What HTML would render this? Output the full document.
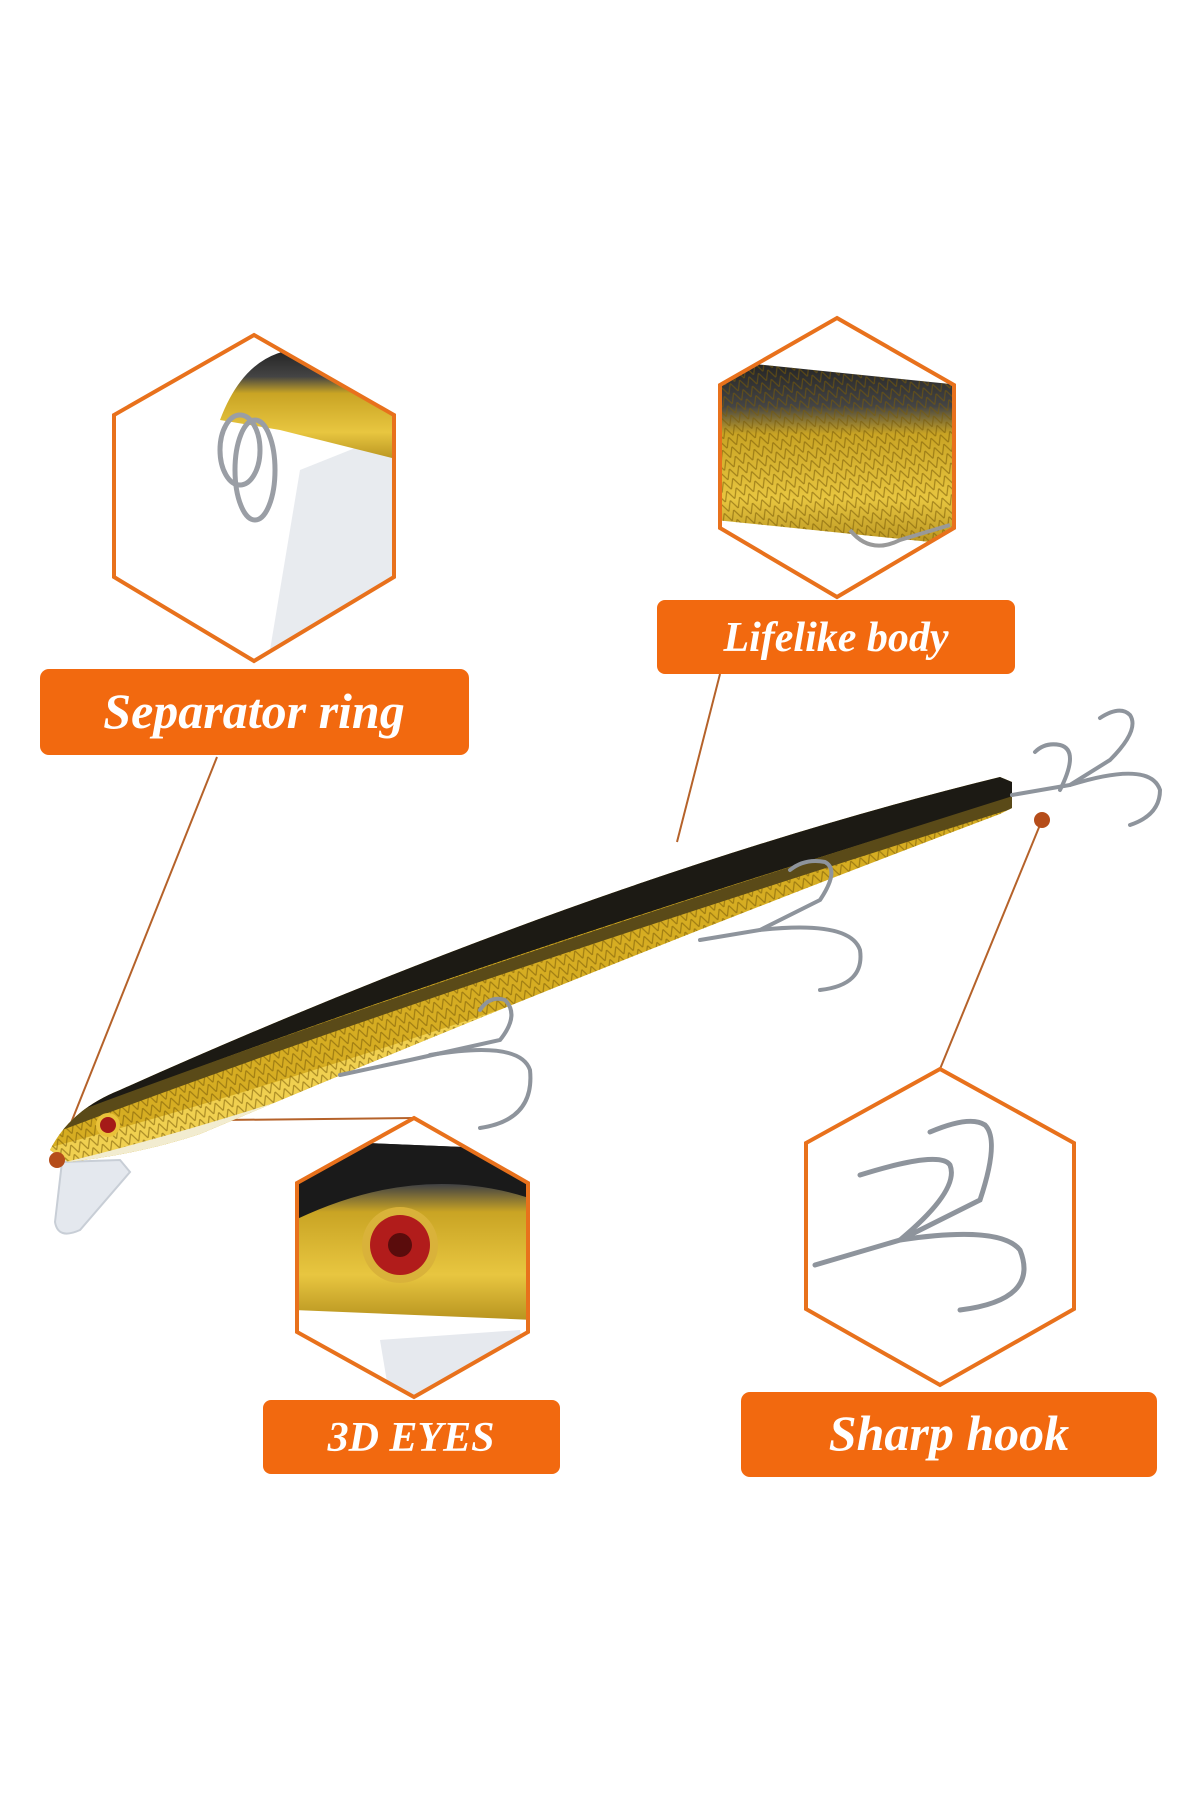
<!DOCTYPE html>
<html><head><meta charset="utf-8"><style>
html,body{margin:0;padding:0;background:#fff;width:1200px;height:1800px;overflow:hidden}
svg{display:block}
text{font-family:"Liberation Serif",serif;font-style:italic;font-weight:bold;fill:#fff}
</style></head><body>
<svg width="1200" height="1800" viewBox="0 0 1200 1800" xmlns="http://www.w3.org/2000/svg">
<defs>
<linearGradient id="gold" x1="0" y1="0" x2="0" y2="1">
<stop offset="0" stop-color="#222"/><stop offset="0.25" stop-color="#444"/>
<stop offset="0.4" stop-color="#c9a424"/><stop offset="0.75" stop-color="#e8c640"/>
<stop offset="1" stop-color="#b89420"/></linearGradient>
<pattern id="scales" width="10" height="10" patternUnits="userSpaceOnUse" patternTransform="rotate(-20)">
<path d="M0 10 L5 0 L10 10" fill="none" stroke="#7a5c08" stroke-width="1.2" opacity="0.6"/></pattern>
<clipPath id="h1"><polygon points="254,335 394,415 394,577 254,661 114,577 114,415"/></clipPath>
<clipPath id="h2"><polygon points="837,318 954,385 954,528 837,597 720,528 720,385"/></clipPath>
<clipPath id="h3"><polygon points="414,1118 528,1183 528,1332 414,1397 297,1332 297,1183"/></clipPath>
<clipPath id="h4"><polygon points="940,1069 1074,1143 1074,1309 940,1385 806,1309 806,1143"/></clipPath>
<clipPath id="fb"><path d="M50 1150 Q70 1110 120 1090 Q600 875 1000 777 L1012 782 L1012 808 L1000 814 Q600 965 200 1134 Q140 1154 68 1162 Z"/></clipPath>
</defs>

<g stroke="#b5622a" stroke-width="2" fill="none">
<line x1="217" y1="757" x2="57" y2="1158"/>
<line x1="720" y1="674" x2="677" y2="842"/>
<line x1="1042" y1="820" x2="940" y2="1069"/>
<line x1="130" y1="1121" x2="414" y2="1118"/>
</g>

<path d="M62 1162 L120 1160 L130 1172 L80 1230 Q58 1240 55 1222 Z" fill="#e4e8ee" stroke="#c8ced6" stroke-width="2"/>
<g clip-path="url(#fb)">
<rect x="40" y="760" width="1000" height="420" fill="#d6ad22"/>
<path d="M40 1200 L40 1150 Q400 1055 1020 825 L1020 1200 Z" fill="#f0d050"/>
<rect x="40" y="760" width="1000" height="420" fill="url(#scales)"/>
<path d="M40 1180 L40 1128 Q400 985 1020 795 L1020 760 L40 760 Z" fill="#1c1a14"/>
<path d="M40 1132 Q400 995 1020 800" stroke="#5a4a18" stroke-width="12" fill="none"/>
<path d="M40 1200 L40 1168 Q400 1085 1020 814 L1020 1200 Z" fill="#f2ecd0"/>
</g>
<circle cx="108" cy="1125" r="12" fill="#e9c23a"/><circle cx="108" cy="1125" r="8" fill="#a51a18"/>
<g stroke="#8e949c" stroke-width="4" fill="none" stroke-linecap="round">
<path d="M1012 795 L1070 785 L1110 760 Q1140 730 1130 715 Q1120 705 1100 718"/>
<path d="M1060 790 Q1080 750 1060 745 Q1045 742 1035 752"/>
<path d="M1070 785 Q1150 760 1160 790 Q1160 815 1130 825"/>
<path d="M700 940 L760 930 L820 900 Q840 870 825 862 Q805 858 790 870"/>
<path d="M760 930 Q850 920 860 950 Q865 985 820 990"/>
<path d="M340 1075 L410 1060 L500 1040 Q520 1015 505 1000 Q490 995 480 1010"/>
<path d="M430 1055 Q520 1040 530 1070 Q535 1120 480 1128"/>
</g>
<circle cx="1042" cy="820" r="8" fill="#b54d1a"/>
<circle cx="57" cy="1160" r="8" fill="#b54d1a"/>

<g clip-path="url(#h1)">
<rect x="110" y="330" width="290" height="340" fill="#fff"/>
<path d="M270 650 L300 470 L400 430 L400 670 Z" fill="#e8ebef"/>
<path d="M220 420 Q250 340 320 350 L400 380 L400 460 L280 430 Z" fill="url(#gold)"/>
<g stroke="#9a9ea5" stroke-width="5" fill="none"><ellipse cx="255" cy="470" rx="20" ry="50"/><ellipse cx="240" cy="450" rx="20" ry="35"/></g>
</g>
<polygon points="254,335 394,415 394,577 254,661 114,577 114,415" fill="none" stroke="#e8711c" stroke-width="4"/>
<rect x="40" y="669" width="429" height="86" rx="9" fill="#f2690f"/>
<text x="254" y="728" font-size="50" text-anchor="middle">Separator ring</text>

<g clip-path="url(#h2)">
<rect x="715" y="315" width="245" height="290" fill="#fff"/>
<path d="M715 360 L960 385 L960 545 L715 520 Z" fill="url(#gold)"/>
<path d="M715 360 L960 385 L960 545 L715 520 Z" fill="url(#scales)"/>
<path d="M850 530 Q870 555 900 540 L950 525" stroke="#999" stroke-width="4" fill="none"/>
</g>
<polygon points="837,318 954,385 954,528 837,597 720,528 720,385" fill="none" stroke="#e8711c" stroke-width="4"/>
<rect x="657" y="600" width="358" height="74" rx="8" fill="#f2690f"/>
<text x="836" y="651" font-size="42" text-anchor="middle">Lifelike body</text>

<g clip-path="url(#h3)">
<rect x="295" y="1115" width="240" height="290" fill="#fff"/>
<path d="M295 1140 L535 1150 L535 1320 L295 1310 Z" fill="url(#gold)"/>
<path d="M295 1140 L535 1150 L535 1200 Q420 1160 295 1220 Z" fill="#1a1a1a"/>
<path d="M380 1340 L520 1330 L530 1400 L390 1400 Z" fill="#e6e9ee"/>
<circle cx="400" cy="1245" r="38" fill="#d9b23a"/><circle cx="400" cy="1245" r="30" fill="#b11c1b"/><circle cx="400" cy="1245" r="12" fill="#5a0c0c"/>
</g>
<polygon points="414,1118 528,1183 528,1332 414,1397 297,1332 297,1183" fill="none" stroke="#e8711c" stroke-width="4"/>
<rect x="263" y="1400" width="297" height="74" rx="8" fill="#f2690f"/>
<text x="411" y="1451" font-size="42" text-anchor="middle">3D EYES</text>

<g clip-path="url(#h4)">
<rect x="800" y="1065" width="280" height="325" fill="#fff"/>
<g stroke="#8e949c" stroke-width="5" fill="none" stroke-linecap="round">
<path d="M815 1265 L900 1240 L980 1200 Q1000 1140 985 1125 Q970 1115 930 1132"/>
<path d="M900 1240 Q960 1190 950 1165 Q940 1150 860 1175"/>
<path d="M900 1240 Q1000 1225 1020 1250 Q1040 1300 960 1310"/>
</g>
</g>
<polygon points="940,1069 1074,1143 1074,1309 940,1385 806,1309 806,1143" fill="none" stroke="#e8711c" stroke-width="4"/>
<rect x="741" y="1392" width="416" height="85" rx="9" fill="#f2690f"/>
<text x="949" y="1450" font-size="50" text-anchor="middle">Sharp hook</text>
</svg>
</body></html>
